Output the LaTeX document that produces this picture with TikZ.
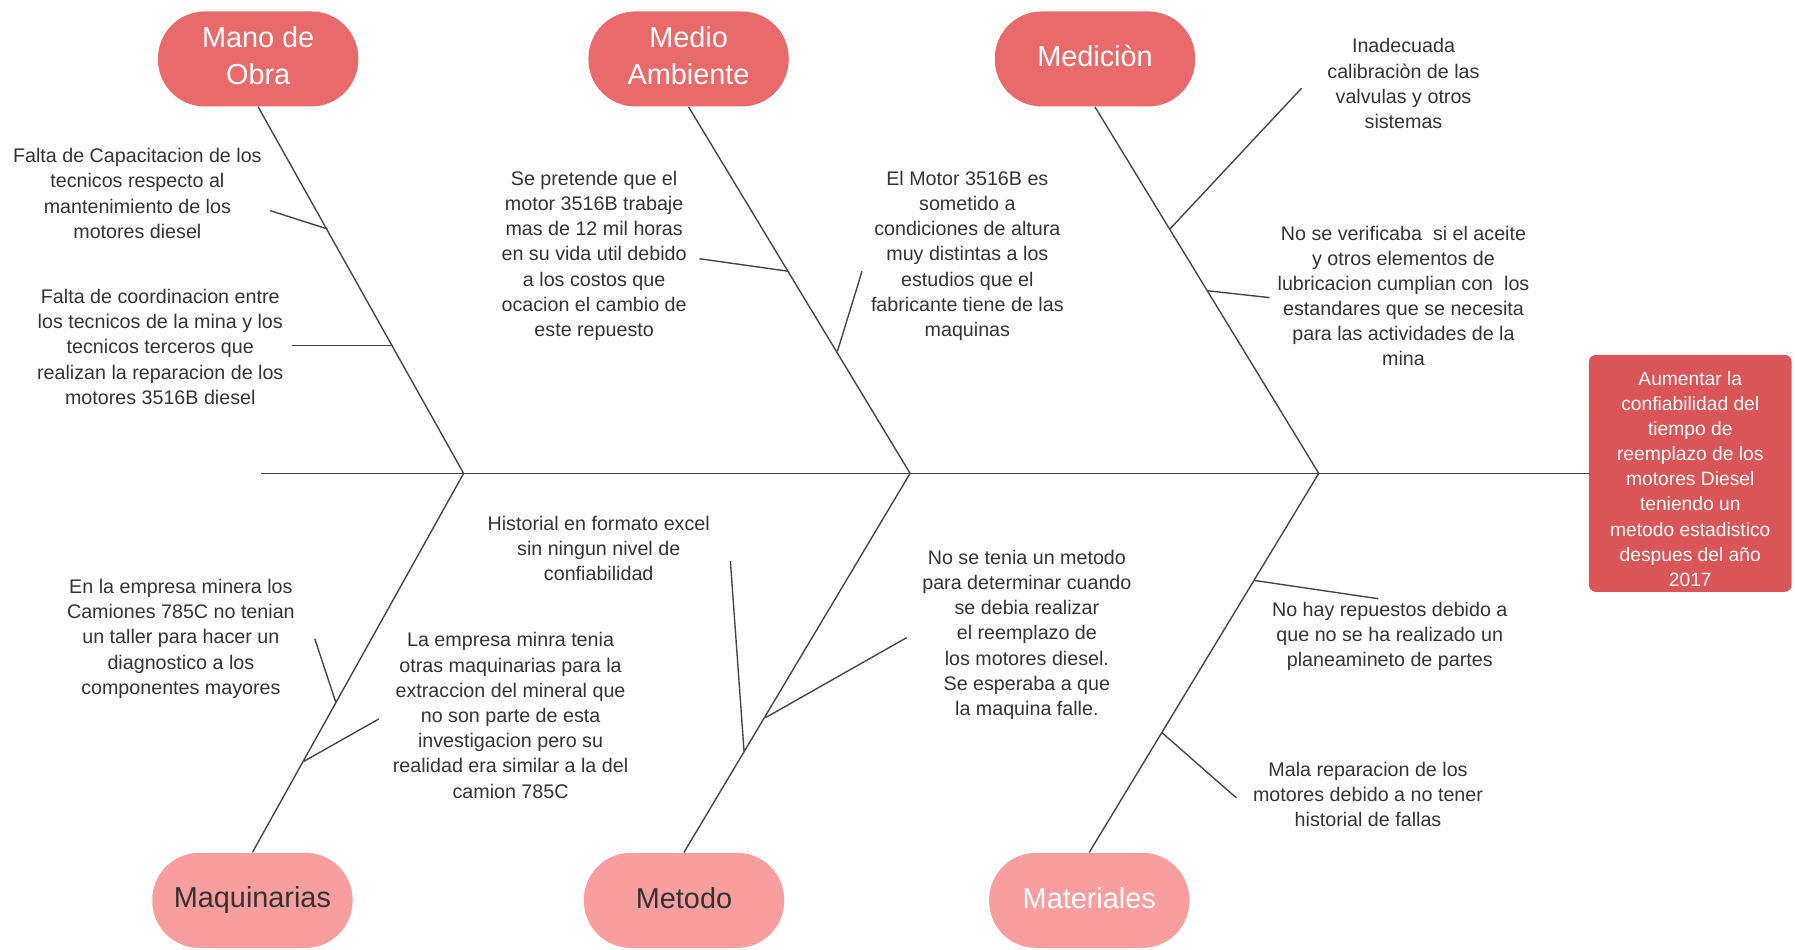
\documentclass[tikz,border=0pt]{standalone}
\usepackage{fontspec}
\setmainfont{Liberation Sans}
\definecolor{topred}{HTML}{E96A6A}
\definecolor{botpink}{HTML}{F89E9E}
\definecolor{goalred}{HTML}{D95557}
\definecolor{textgray}{HTML}{333333}
\definecolor{linegray}{HTML}{444444}
% invisible struts that nudge a label within its box
\newcommand{\lowstrut}[1]{\rule[-#1]{0pt}{#1}}
\newcommand{\highstrut}[1]{\rule{0pt}{#1}}
\begin{document}
\begin{tikzpicture}[x=0.5pt,y=-0.5pt,
  bone/.style={draw=linegray, line width=0.6pt},
  cat/.style={rounded corners=20.5pt, minimum width=87.5pt, minimum height=41.5pt,
    inner sep=0pt, align=center, font=\fontsize{12.6}{16}\selectfont},
  topcat/.style={cat, fill=topred, text=white},
  botcat/.style={cat, fill=botpink, text=textgray},
  cause/.style={align=center, inner sep=0pt, text=textgray,
    font=\fontsize{8.6}{11}\selectfont},
  goalbox/.style={rounded corners=3pt, fill=goalred, text=white, align=center,
    minimum width=88.5pt, minimum height=103.5pt, inner sep=0pt,
    font=\fontsize{8.4}{10.95}\selectfont},
]
\useasboundingbox (0,0) rectangle (1568,829);

% category heads
\node[topcat] (mano)  at (225.5,51.5) {Mano de\\Obra\lowstrut{3pt}};
\node[topcat] (medio) at (601.5,51.5) {Medio\\Ambiente\lowstrut{3pt}};
\node[topcat] (medic) at (956.5,51.5) {Mediciòn\lowstrut{3pt}};
\node[botcat] (maq)   at (220.5,786.5) {Maquinarias};
\node[botcat] (met)   at (597.5,786.5) {Metodo\lowstrut{2pt}};
\node[botcat, text=white] (mat) at (951.5,786.5) {Materiales\lowstrut{2pt}};

% effect
\node[goalbox] (goal) at (1476.5,413.5) {\highstrut{11pt}Aumentar la\\confiabilidad del\\tiempo de\\reemplazo de los\\motores Diesel\\teniendo un\\metodo estadistico\\despues del año\\2017};

% spine and joints
\coordinate (tail) at (228,413.5);
\coordinate (j1) at (405,413.5);
\coordinate (j2) at (795,413.5);
\coordinate (j3) at (1152,413.5);
\draw[bone] (tail) -- (goal.west);

% main bones
\draw[bone] (mano.south)  -- (j1) -- (maq.north);
\draw[bone] (medio.south) -- (j2) -- (met.north);
\draw[bone] (medic.south) -- (j3) -- (mat.north);

% branch points and free ends
\coordinate (a1) at (286,200);   \coordinate (a1e) at (236,184);
\coordinate (a2) at (343,302);   \coordinate (a2e) at (255,302);
\coordinate (b1) at (689,237);   \coordinate (b1e) at (611,226);
\coordinate (b2) at (731.5,307); \coordinate (b2e) at (753,237);
\coordinate (c1) at (1022,200);  \coordinate (c1e) at (1137,77);
\coordinate (c2) at (1055,254);  \coordinate (c2e) at (1109,260);
\coordinate (d1) at (293.5,614); \coordinate (d1e) at (275,558);
\coordinate (d2) at (265.5,665); \coordinate (d2e) at (331,628);
\coordinate (e1) at (650,657);   \coordinate (e1e) at (638,490);
\coordinate (e2) at (668.5,627); \coordinate (e2e) at (792,557);
\coordinate (f1) at (1095.5,507);\coordinate (f1e) at (1204,523);
\coordinate (f2) at (1015,640);  \coordinate (f2e) at (1080,697);
\foreach \p in {a1,a2,b1,b2,c1,c2,d1,d2,e1,e2,f1,f2}
  \draw[bone] (\p e) -- (\p);

% causes
\node[cause] (ta1) at (120,169) {Falta de Capacitacion de los\\tecnicos respecto al\\mantenimiento de los\\motores diesel};
\node[cause] (ta2) at (140,303) {Falta de coordinacion entre\\los tecnicos de la mina y los\\tecnicos terceros que\\realizan la reparacion de los\\motores 3516B diesel};
\node[cause] (tb1) at (519,223.5) {Se pretende que el\\motor 3516B trabaje\\mas de 12 mil horas\\en su vida util debido\\a los costos que\\ocacion el cambio de\\este repuesto};
\node[cause] (tb2) at (845,223.5) {El Motor 3516B es\\sometido a\\condiciones de altura\\muy distintas a los\\estudios que el\\fabricante tiene de las\\maquinas};
\node[cause] (tc1) at (1226,73) {Inadecuada\\calibraciòn de las\\valvulas y otros\\sistemas};
\node[cause] (tc2) at (1226,258.5) {No se verificaba\ \ si el aceite\\y otros elementos de\\lubricacion cumplian con\ \ los\\estandares que se necesita\\para las actividades de la\\mina};
\node[cause] (te1) at (523,479) {Historial en formato excel\\sin ningun nivel de\\confiabilidad};
\node[cause] (td1) at (158,558) {En la empresa minera los\\Camiones 785C no tenian\\un taller para hacer un\\diagnostico a los\\componentes mayores};
\node[cause] (td2) at (446,625) {La empresa minra tenia\\otras maquinarias para la\\extraccion del mineral que\\no son parte de esta\\investigacion pero su\\realidad era similar a la del\\camion 785C};
\node[cause] (te2) at (897,554.5) {No se tenia un metodo\\para determinar cuando\\se debia realizar\\el reemplazo de\\los motores diesel.\\Se esperaba a que\\la maquina falle.};
\node[cause] (tf1) at (1214,556) {No hay repuestos debido a\\que no se ha realizado un\\planeamineto de partes};
\node[cause] (tf2) at (1195,694) {Mala reparacion de los\\motores debido a no tener\\historial de fallas};
\end{tikzpicture}
\end{document}
